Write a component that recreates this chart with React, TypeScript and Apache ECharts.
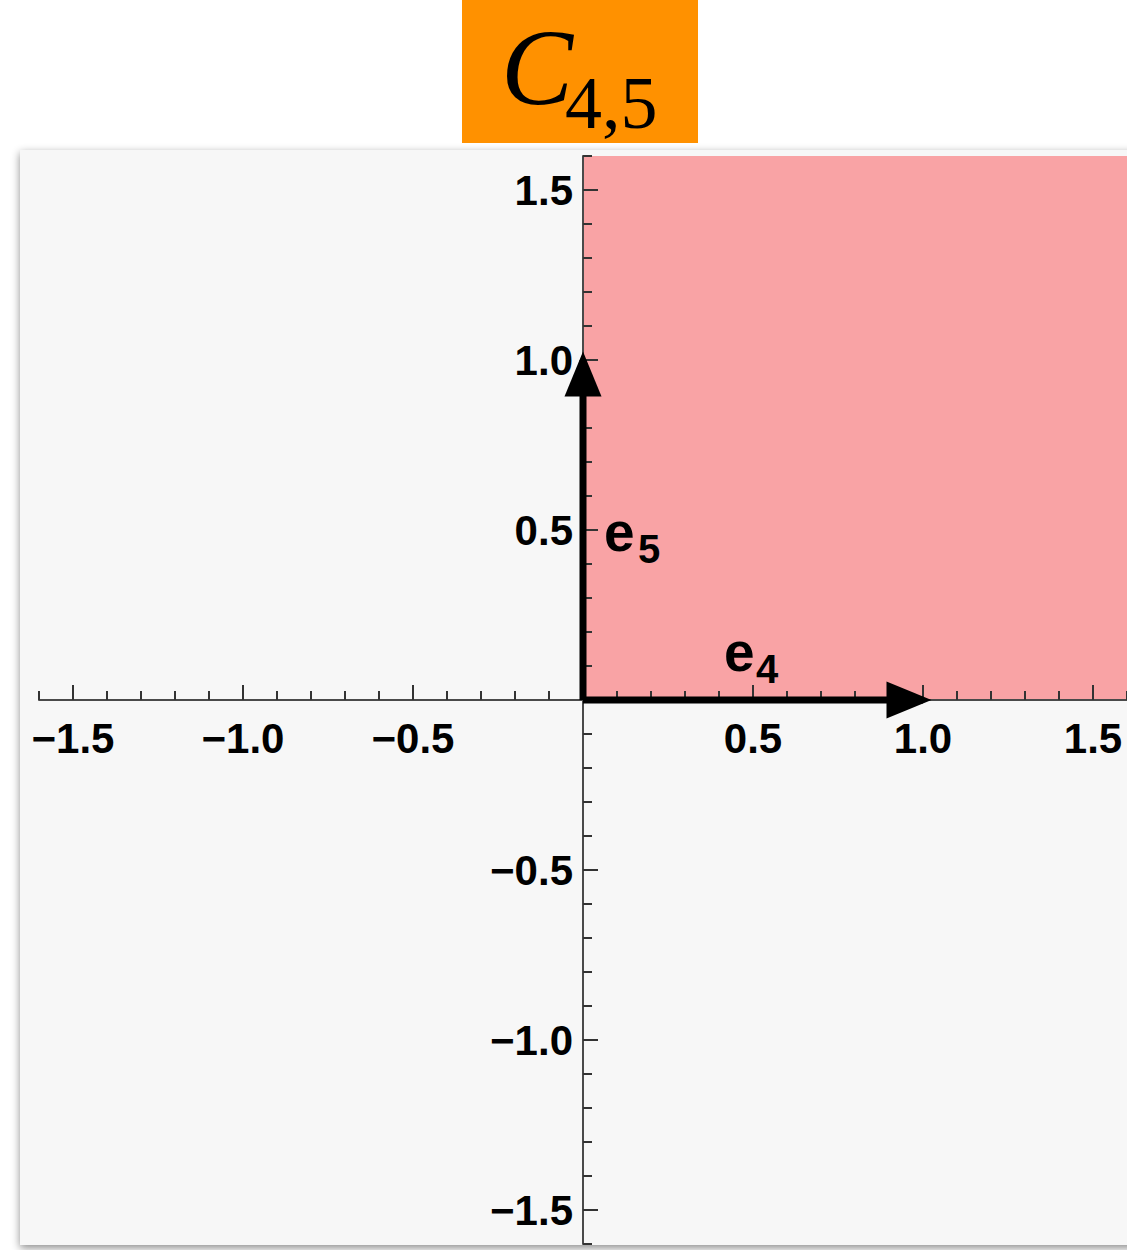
import React, { useEffect, useRef } from "react";
import * as echarts from "echarts";

// ---- data ----
const axisMin = -1.6;
const axisMax = 1.6;
const majorTicks = [-1.5, -1.0, -0.5, 0.5, 1.0, 1.5];
const minorTicks = [
  -1.6, -1.4, -1.3, -1.2, -1.1, -0.9, -0.8, -0.7, -0.6, -0.4, -0.3, -0.2, -0.1,
  0.1, 0.2, 0.3, 0.4, 0.6, 0.7, 0.8, 0.9, 1.1, 1.2, 1.3, 1.4, 1.6,
];
const origin = [0, 0];
const e4 = [1, 0];
const e5 = [0, 1];
const coneMin = [0, 0];
const coneMax = [1.6, 1.6];
const titleMain = "C";
const titleSub = "4,5";

const fmt = (v: number) => v.toFixed(1).replace("-", "\u2212");

const GRID = { left: 39, top: 156, width: 1088, height: 1088 };
// shift axes from the grid edge to the zero line
const zeroFrac = (0 - axisMin) / (axisMax - axisMin);
const xOffset = -(GRID.height * zeroFrac);
const yOffset = -(GRID.width * zeroFrac);

const tickLine = { color: "#333", width: 2 };
const labelStyle = {
  fontSize: 42,
  fontWeight: "bold" as const,
  fontFamily: "Liberation Sans",
  color: "#000",
};

function makeAxes(offset: number, position: string, labelMargin: number) {
  return [
    {
      type: "value",
      min: axisMin,
      max: axisMax,
      position,
      offset,
      z: 10,
      axisLine: { show: true, onZero: false, lineStyle: { color: "#4a4a4a", width: 2 } },
      axisTick: { show: true, inside: true, length: 9, customValues: minorTicks, lineStyle: tickLine },
      axisLabel: { show: true, customValues: majorTicks, formatter: fmt, margin: labelMargin, ...labelStyle },
      splitLine: { show: false },
    },
    {
      type: "value",
      min: axisMin,
      max: axisMax,
      position,
      offset,
      z: 10,
      axisLine: { show: false, onZero: false },
      axisTick: { show: true, inside: true, length: 15, customValues: majorTicks, lineStyle: tickLine },
      axisLabel: { show: false },
      splitLine: { show: false },
    },
  ];
}

export default function App() {
  const ref = useRef<HTMLDivElement>(null);
  useEffect(() => {
    document.body.style.margin = "0";
    const chart = echarts.init(ref.current!, null, { renderer: "svg" });
    const option: any = {
      animation: false,
      backgroundColor: "#ffffff",
      grid: { ...GRID, outerBoundsMode: "none" },
      xAxis: makeAxes(xOffset, "bottom", 17),
      yAxis: makeAxes(yOffset, "left", 10),
      series: [
        {
          type: "line",
          data: [],
          z: 1,
          silent: true,
          markArea: {
            silent: true,
            itemStyle: { color: "#f9a3a5" },
            data: [[{ coord: coneMin }, { coord: coneMax }]],
          },
        },
        {
          type: "line",
          data: [origin, e4],
          symbol: "none",
          z: 20,
          lineStyle: { color: "#000", width: 7, cap: "butt" },
          silent: true,
        },
        {
          type: "line",
          data: [origin, e5],
          symbol: "none",
          z: 20,
          lineStyle: { color: "#000", width: 7, cap: "butt" },
          silent: true,
        },
        {
          type: "scatter",
          data: [e4],
          symbol: "triangle",
          symbolSize: [37, 45],
          symbolRotate: -90,
          symbolOffset: [-14, 0],
          itemStyle: { color: "#000", opacity: 1 },
          z: 21,
          silent: true,
        },
        {
          type: "scatter",
          data: [e5],
          symbol: "triangle",
          symbolSize: [37, 45],
          symbolRotate: 0,
          symbolOffset: [0, 14],
          itemStyle: { color: "#000", opacity: 1 },
          z: 21,
          silent: true,
        },
      ],
      graphic: [
        {
          type: "rect",
          z: -10,
          silent: true,
          shape: { x: 20, y: 150, width: 1130, height: 1095 },
          style: {
            fill: "#f7f7f7",
            shadowBlur: 8,
            shadowOffsetY: 3,
            shadowColor: "rgba(0,0,0,0.45)",
          },
        },
        {
          type: "rect",
          z: -5,
          silent: true,
          shape: { x: 462, y: 0, width: 236, height: 143 },
          style: { fill: "#ff9100" },
        },
        {
          type: "text",
          z: 50,
          x: 501,
          y: 67,
          style: {
            text: titleMain,
            fontSize: 108,
            fontStyle: "italic",
            fontFamily: "Liberation Serif",
            fill: "#000",
            align: "left",
            verticalAlign: "middle",
          },
        },
        {
          type: "text",
          z: 50,
          x: 565,
          y: 103,
          style: {
            text: titleSub,
            fontSize: 74,
            fontFamily: "Liberation Serif",
            fill: "#000",
            align: "left",
            verticalAlign: "middle",
          },
        },
        {
          type: "text",
          z: 50,
          x: 604,
          y: 532,
          style: { text: "e", fontSize: 55, fontWeight: "bold", fontFamily: "Liberation Sans", fill: "#000", align: "left", verticalAlign: "middle" },
        },
        {
          type: "text",
          z: 50,
          x: 638,
          y: 549,
          style: { text: "5", fontSize: 40, fontWeight: "bold", fontFamily: "Liberation Sans", fill: "#000", align: "left", verticalAlign: "middle" },
        },
        {
          type: "text",
          z: 50,
          x: 724,
          y: 652,
          style: { text: "e", fontSize: 55, fontWeight: "bold", fontFamily: "Liberation Sans", fill: "#000", align: "left", verticalAlign: "middle" },
        },
        {
          type: "text",
          z: 50,
          x: 756,
          y: 669,
          style: { text: "4", fontSize: 40, fontWeight: "bold", fontFamily: "Liberation Sans", fill: "#000", align: "left", verticalAlign: "middle" },
        },
      ],
    };
    chart.setOption(option);
    return () => chart.dispose();
  }, []);
  return <div ref={ref} style={{ width: 1127, height: 1250 }} />;
}
